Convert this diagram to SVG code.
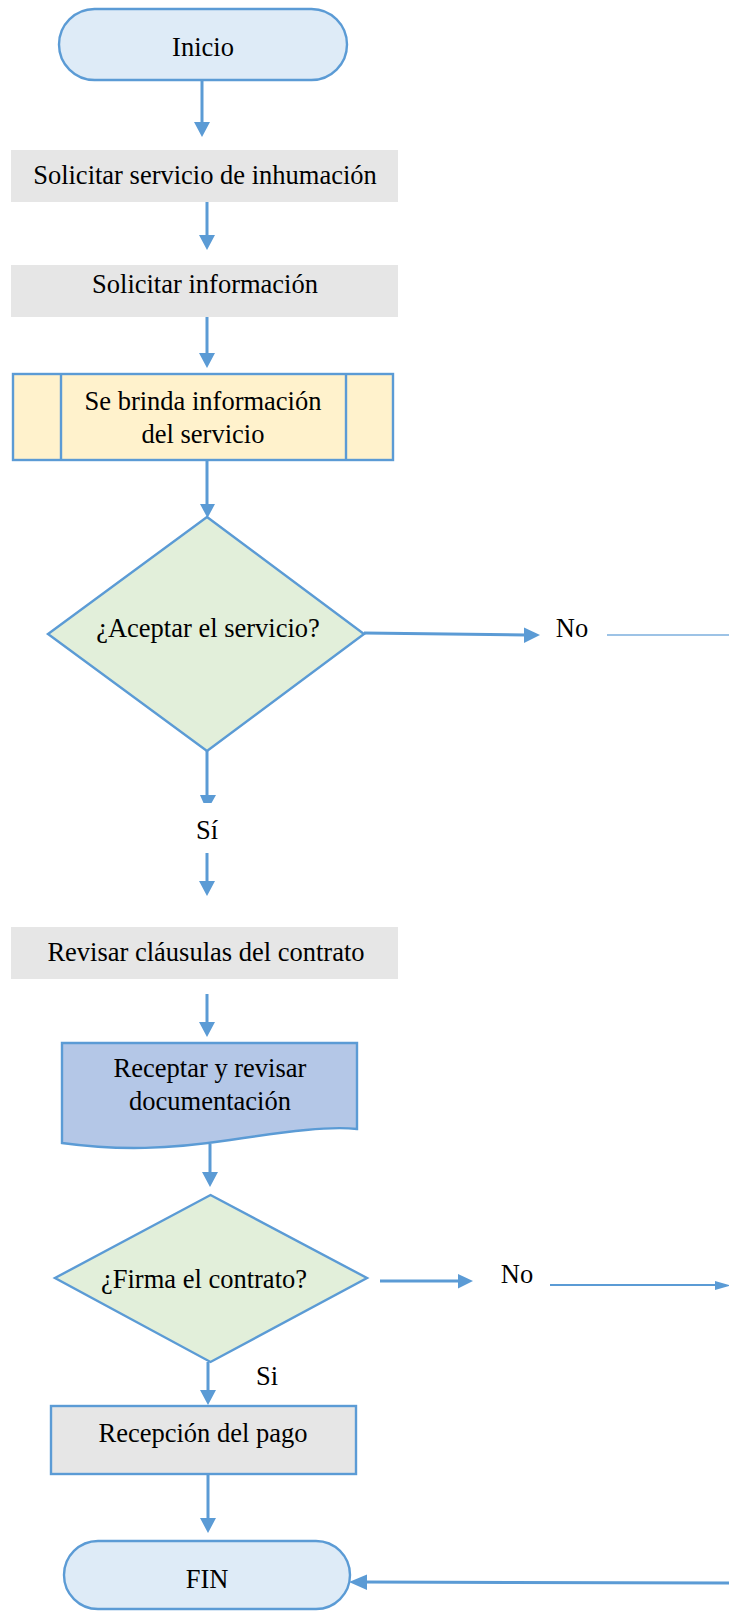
<svg xmlns="http://www.w3.org/2000/svg" width="729" height="1611" viewBox="0 0 729 1611">
  <style>
    text { font-family: "Liberation Serif", "Times New Roman", serif; font-size: 26.5px; fill: #000; text-anchor: middle; }
    .shape { stroke: #5B9BD5; stroke-width: 2.4; }
    .plain { fill: #E6E6E6; }
    .term { fill: #DEEBF7; }
    .proc { fill: #FFF2CC; }
    .dec { fill: #E2EFDA; }
    .doc { fill: #B4C7E7; }
    .gray { fill: #E6E6E6; }
    .line { stroke: #5B9BD5; stroke-width: 3; fill: none; }
    .thin { stroke: #5B9BD5; stroke-width: 1.8; fill: none; }
    .pale { stroke: #9DC3E6; stroke-width: 2.2; fill: none; }
    .head { fill: #5B9BD5; }
  </style>

  <rect width="729" height="1611" fill="#FFFFFF"/>

  <!-- connectors -->
  <g id="connectors">
    <line class="line" x1="202" y1="80" x2="202" y2="124"/>
    <polygon class="head" points="194,122 210,122 202,137"/>

    <line class="line" x1="207" y1="202" x2="207" y2="237"/>
    <polygon class="head" points="199,235 215,235 207,250"/>

    <line class="line" x1="207" y1="317" x2="207" y2="355"/>
    <polygon class="head" points="199,353 215,353 207,368"/>

    <line class="line" x1="207" y1="460" x2="207" y2="506"/>
    <polygon class="head" points="200,504 215,504 207.5,518"/>

    <!-- Sí branch -->
    <line class="line" x1="207" y1="751" x2="207" y2="796"/>
    <polygon class="head" points="200,795 216,795 211.5,803 203.5,803"/>
    <line class="line" x1="207" y1="853" x2="207" y2="883"/>
    <polygon class="head" points="199,881 215,881 207,896"/>

    <line class="line" x1="207" y1="994" x2="207" y2="1024"/>
    <polygon class="head" points="199,1022 215,1022 207,1037"/>

    <line class="line" x1="210" y1="1144" x2="210" y2="1174"/>
    <polygon class="head" points="202,1172 218,1172 210,1187"/>

    <line class="line" x1="208" y1="1362" x2="208" y2="1392"/>
    <polygon class="head" points="200,1390 216,1390 208,1405"/>

    <line class="line" x1="208" y1="1474" x2="208" y2="1520"/>
    <polygon class="head" points="200,1518 216,1518 208,1533"/>

    <!-- No branch of first decision -->
    <line class="line" x1="364" y1="633" x2="526" y2="635"/>
    <polygon class="head" points="524,627.5 524,643 540,635"/>
    <line class="pale" x1="607" y1="635" x2="729" y2="635"/>

    <!-- No branch of second decision -->
    <line class="line" x1="380" y1="1281" x2="460" y2="1281"/>
    <polygon class="head" points="458,1274 458,1288.5 473,1281"/>
    <line class="thin" x1="550" y1="1285" x2="717" y2="1285"/>
    <polygon class="head" points="715,1281 715,1290 731,1285.5"/>

    <!-- return into FIN -->
    <line class="line" x1="729" y1="1583" x2="365" y2="1582"/>
    <polygon class="head" points="367,1574.5 367,1590 349,1582"/>
  </g>

  <g id="n-inicio">
    <rect class="shape term" x="59" y="9" width="288" height="71" rx="35.5" ry="35.5"/>
    <text x="203" y="56">Inicio</text>
  </g>

  <g id="n-solicitar-servicio">
    <rect class="plain" x="11" y="150" width="387" height="52"/>
    <text x="205" y="184">Solicitar servicio de inhumación</text>
  </g>

  <g id="n-solicitar-info">
    <rect class="plain" x="11" y="265" width="387" height="52"/>
    <text x="205" y="293">Solicitar información</text>
  </g>

  <g id="n-brinda-info">
    <rect class="shape proc" x="13" y="374" width="380" height="86"/>
    <line class="shape" x1="61" y1="374" x2="61" y2="460"/>
    <line class="shape" x1="346" y1="374" x2="346" y2="460"/>
    <text x="203" y="410">Se brinda información</text>
    <text x="203" y="443">del servicio</text>
  </g>

  <g id="n-aceptar">
    <polygon class="shape dec" points="207,517 364,634 207,751 48,634"/>
    <text x="208" y="637">¿Aceptar el servicio?</text>
  </g>

  <g id="l-no-1">
    <text x="572" y="637">No</text>
  </g>

  <g id="l-si-1">
    <text x="207" y="839">Sí</text>
  </g>

  <g id="n-revisar">
    <rect class="plain" x="11" y="927" width="387" height="52"/>
    <text x="206" y="961">Revisar cláusulas del contrato</text>
  </g>

  <g id="n-receptar">
    <path class="shape doc" d="M62,1043 H357 V1129 C330,1126 290,1131 230,1140 C170,1149 120,1151 62,1143 Z"/>
    <text x="210" y="1077">Receptar y revisar</text>
    <text x="210" y="1110">documentación</text>
  </g>

  <g id="n-firma">
    <polygon class="shape dec" points="210.5,1195 367,1278 210.5,1362 55,1278"/>
    <text x="204" y="1288">¿Firma el contrato?</text>
  </g>

  <g id="l-no-2">
    <text x="517" y="1283">No</text>
  </g>

  <g id="l-si-2">
    <text x="267" y="1385">Si</text>
  </g>

  <g id="n-pago">
    <rect class="shape gray" x="51" y="1406" width="305" height="68"/>
    <text x="203" y="1442">Recepción del pago</text>
  </g>

  <g id="n-fin">
    <rect class="shape term" x="64" y="1541" width="286" height="68" rx="34" ry="34"/>
    <text x="207" y="1588">FIN</text>
  </g>
</svg>
